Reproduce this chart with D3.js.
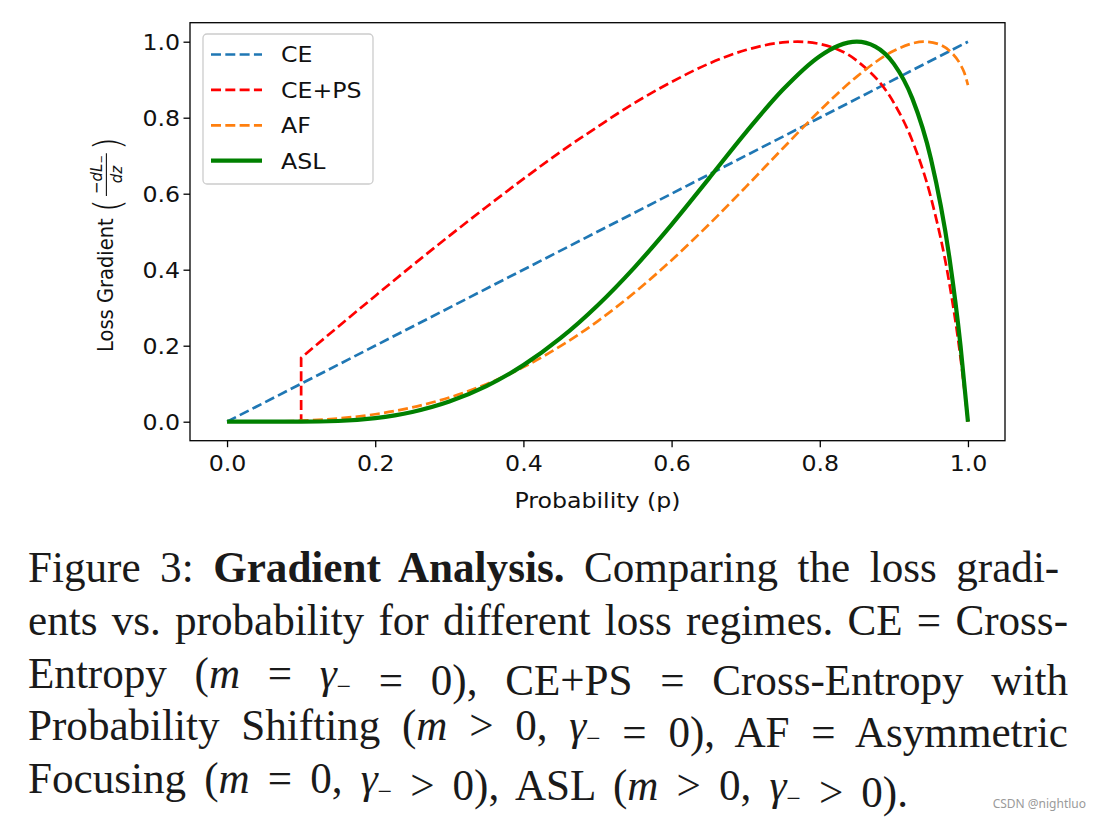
<!DOCTYPE html>
<html>
<head>
<meta charset="utf-8">
<script src="https://cdn.jsdelivr.net/npm/d3@7"></script>
<style>
  html, body { margin: 0; padding: 0; background: #fff; }
  svg { display: block; }
</style>
</head>
<body>
<svg id="chart" width="1093" height="818"></svg>
<script>
// ---------------- data ----------------
const seriesNames = ["CE", "CE+PS", "AF", "ASL"];
const xTicks = [0.0, 0.2, 0.4, 0.6, 0.8, 1.0];
const yTicks = [0.0, 0.2, 0.4, 0.6, 0.8, 1.0];

const ceX = [0, 1];
const ceY = [0, 1];

const cepsX = [0, 0.05, 0.1, 0.1, 0.15, 0.2, 0.25, 0.3, 0.35, 0.4, 0.45, 0.5, 0.55, 0.6, 0.65, 0.7, 0.75, 0.77, 0.8, 0.85, 0.9, 0.925, 0.95, 0.975, 0.99, 1.0];
const cepsY = [0, 0, 0, 0.168, 0.250, 0.331, 0.411, 0.489, 0.565, 0.639, 0.710, 0.776, 0.839, 0.894, 0.942, 0.978, 0.998, 1.0, 0.994, 0.950, 0.839, 0.739, 0.590, 0.363, 0.168, 0];

const afX = [0, 0.05, 0.1, 0.15, 0.2, 0.25, 0.3, 0.35, 0.4, 0.45, 0.5, 0.55, 0.6, 0.65, 0.7, 0.75, 0.8, 0.85, 0.9, 0.925, 0.94, 0.96, 0.975, 0.99, 0.995, 1.0];
const afY = [0, 0.0003, 0.0026, 0.0085, 0.0197, 0.0377, 0.0637, 0.0987, 0.1436, 0.1987, 0.2642, 0.3399, 0.4251, 0.5183, 0.6173, 0.7190, 0.8184, 0.9082, 0.9761, 0.9955, 1.0, 0.9939, 0.9763, 0.9394, 0.9190, 0.886];

const aslX = [0, 0.05, 0.1, 0.15, 0.2, 0.25, 0.3, 0.35, 0.4, 0.45, 0.5, 0.55, 0.6, 0.65, 0.7, 0.75, 0.8, 0.825, 0.85, 0.875, 0.9, 0.925, 0.95, 0.975, 0.99, 1.0];
const aslY = [0, 0, 0, 0.0018, 0.0093, 0.0256, 0.0530, 0.0936, 0.1489, 0.2197, 0.3059, 0.4063, 0.5188, 0.6391, 0.7607, 0.8736, 0.9620, 0.9895, 1.0, 0.9871, 0.9416, 0.8502, 0.6920, 0.4312, 0.1996, 0];

const xLabel = "Probability (p)";
const yLabel = "Loss Gradient";

// ---------------- layout ----------------
const svg = d3.select("#chart");
const plot = { left: 190, right: 1005, top: 22.7, bottom: 440.7 };
const x = d3.scaleLinear().domain([-0.05, 1.05]).range([plot.left, plot.right]);
const y = d3.scaleLinear().domain([-0.05, 1.05]).range([plot.bottom, plot.top]);

const FONT = "'DejaVu Sans', Verdana, sans-serif";
const SX = 1.1; // horizontal stretch seen in the reference
const FS = "21.5px";
const txtColor = "#111";

const colors = { "CE": "#1f77b4", "CE+PS": "#ff0000", "AF": "#ff7f0e", "ASL": "#008000" };
const dashLW = 2.7;
const dash = `${3.7 * dashLW},${1.6 * dashLW}`;

function pts(xs, ys) { return xs.map((v, i) => [v, ys[i]]); }

const lineLin = d3.line().x(d => x(d[0])).y(d => y(d[1])).curve(d3.curveLinear);
const lineMono = d3.line().x(d => x(d[0])).y(d => y(d[1])).curve(d3.curveMonotoneX);

const gLines = svg.append("g");

// CE
gLines.append("path").attr("d", lineLin(pts(ceX, ceY)))
  .attr("fill", "none").attr("stroke", colors["CE"]).attr("stroke-width", dashLW)
  .attr("stroke-dasharray", dash);

// CE+PS : flat part + jump (linear) then smooth curve, one continuous path
{
  const p = pts(cepsX, cepsY);
  const jumpIdx = 3;
  const d1 = lineLin(p.slice(0, jumpIdx + 1));
  const d2 = lineMono(p.slice(jumpIdx)).replace(/^M[^C]*/, "");
  gLines.append("path").attr("d", d1 + d2)
    .attr("fill", "none").attr("stroke", colors["CE+PS"]).attr("stroke-width", dashLW)
    .attr("stroke-dasharray", dash);
}

// AF
gLines.append("path").attr("d", lineMono(pts(afX, afY)))
  .attr("fill", "none").attr("stroke", colors["AF"]).attr("stroke-width", dashLW)
  .attr("stroke-dasharray", dash);

// ASL
gLines.append("path").attr("d", lineMono(pts(aslX, aslY)))
  .attr("fill", "none").attr("stroke", colors["ASL"]).attr("stroke-width", 4.2)
  .attr("stroke-linecap", "butt").attr("stroke-linejoin", "round");

// ---------------- frame + axes ----------------
svg.append("rect")
  .attr("x", plot.left).attr("y", plot.top)
  .attr("width", plot.right - plot.left).attr("height", plot.bottom - plot.top)
  .attr("fill", "none").attr("stroke", "#000").attr("stroke-width", 1.3);

const xAxis = svg.append("g").attr("transform", `translate(0,${plot.bottom})`)
  .call(d3.axisBottom(x).tickValues(xTicks).tickFormat(d3.format(".1f")).tickSize(6.5).tickPadding(8));
const yAxis = svg.append("g").attr("transform", `translate(${plot.left},0)`)
  .call(d3.axisLeft(y).tickValues(yTicks).tickFormat(d3.format(".1f")).tickSize(6.5).tickPadding(9));

[xAxis, yAxis].forEach(a => {
  a.select(".domain").remove();
  a.selectAll(".tick line").attr("stroke", "#000").attr("stroke-width", 1.3);
  a.selectAll(".tick text").attr("fill", txtColor).style("font-family", FONT).style("font-size", FS);
});
xAxis.selectAll(".tick text").attr("transform", `scale(${SX},1)`).attr("dy", "0.72em");
yAxis.selectAll(".tick text").each(function () {
  const t = d3.select(this);
  t.attr("x", -10 / SX).attr("transform", `scale(${SX},1)`).attr("dy", "0.36em");
});

// x label
svg.append("text")
  .attr("transform", `translate(${(x(0) + x(1)) / 2},508) scale(${SX},1)`)
  .attr("text-anchor", "middle").attr("fill", txtColor)
  .style("font-family", FONT).style("font-size", FS)
  .text(xLabel);

// y label (rotated, with fraction)
{
  const g = svg.append("g").attr("transform", `translate(113,352) rotate(-90) scale(1,${SX})`);
  const base = g.append("text").attr("x", 0).attr("y", 0).attr("fill", txtColor)
    .style("font-family", FONT).style("font-size", "19.5px").text(yLabel);
  let cx = base.node().getComputedTextLength() + 6;
  const lp = g.append("text").attr("x", cx).attr("y", 6).attr("fill", txtColor)
    .style("font-family", FONT).style("font-size", "34px").style("font-weight", "200").text("(");
  cx += lp.node().getComputedTextLength() + 3;
  // numerator
  const num = g.append("text").attr("y", -10).attr("fill", txtColor)
    .style("font-family", FONT).style("font-size", "15px");
  num.append("tspan").text("\u2212");
  num.append("tspan").style("font-style", "italic").text("dL");
  num.append("tspan").attr("dy", 2.5).style("font-size", "10px").text("\u2212");
  const den = g.append("text").attr("y", 8).attr("fill", txtColor)
    .style("font-family", FONT).style("font-size", "15px").style("font-style", "italic").text("dz");
  const wN = num.node().getComputedTextLength();
  const wD = den.node().getComputedTextLength();
  const wF = Math.max(wN, wD) + 4;
  num.attr("x", cx + (wF - wN) / 2);
  den.attr("x", cx + (wF - wD) / 2);
  g.append("line").attr("x1", cx).attr("x2", cx + wF).attr("y1", -6).attr("y2", -6)
    .attr("stroke", txtColor).attr("stroke-width", 1);
  cx += wF + 3;
  g.append("text").attr("x", cx).attr("y", 6).attr("fill", txtColor)
    .style("font-family", FONT).style("font-size", "34px").style("font-weight", "200").text(")");
}

// ---------------- legend ----------------
{
  const lg = svg.append("g");
  lg.append("rect").attr("x", 203).attr("y", 34).attr("width", 170).attr("height", 150)
    .attr("rx", 4).attr("ry", 4)
    .attr("fill", "#fff").attr("fill-opacity", 0.8)
    .attr("stroke", "#cccccc").attr("stroke-width", 1.3);
  const rowY = d3.scaleLinear().domain([0, 3]).range([54.5, 160.7]);
  seriesNames.forEach((name, i) => {
    const yy = rowY(i);
    const ln = lg.append("line").attr("x1", 211).attr("x2", 262).attr("y1", yy).attr("y2", yy)
      .attr("stroke", colors[name]);
    if (name === "ASL") ln.attr("stroke-width", 4.2);
    else ln.attr("stroke-width", dashLW).attr("stroke-dasharray", dash);
    lg.append("text")
      .attr("transform", `translate(281,${yy + 7.8}) scale(${SX},1)`)
      .attr("fill", txtColor).style("font-family", FONT).style("font-size", FS)
      .text(name);
  });
}

// ---------------- caption ----------------
{
  const SERIF = "'Liberation Serif', 'Times New Roman', serif";
  const capLeft = 28;
  const CSX = 0.98;
  const M = (t) => ({ t, i: true });
  const G = () => ({ t: "\u03b3", i: true, sub: "\u2212" });
  const captionLines = [
    { y: 582, right: 1068, segs: [{ t: "Figure 3: " }, { t: "Gradient Analysis.", b: true }, { t: "  Comparing the loss gradi-" }] },
    { y: 635, right: 1068, segs: [{ t: "ents vs. probability for different loss regimes. CE = Cross-" }] },
    { y: 688, right: 1068, segs: [{ t: "Entropy (" }, M("m"), { t: " = " }, G(), { t: " = 0), CE+PS = Cross-Entropy with" }] },
    { y: 740, right: 1068, segs: [{ t: "Probability Shifting (" }, M("m"), { t: " > 0, " }, G(), { t: " = 0), AF = Asymmetric" }] },
    { y: 793, right: 908, segs: [{ t: "Focusing (" }, M("m"), { t: " = 0, " }, G(), { t: " > 0), ASL (" }, M("m"), { t: " > 0, " }, G(), { t: " > 0)." }] }
  ];
  captionLines.forEach(line => {
    const t = svg.append("text").attr("x", 0).attr("y", 0)
      .attr("fill", "#1a1a1a").style("font-family", SERIF).style("font-size", "44px")
      .attr("transform", `translate(${capLeft},${line.y}) scale(${CSX},1)`);
    line.segs.forEach(s => {
      const ts = t.append("tspan").text(s.t);
      if (s.b) ts.style("font-weight", "bold");
      if (s.i) ts.style("font-style", "italic");
      if (s.sub) {
        t.append("tspan").attr("dy", 7).style("font-size", "26px").text(s.sub);
        t.append("tspan").attr("dy", -7).text("");
      }
    });
    const natural = t.node().getComputedTextLength();
    const full = line.segs.map(s => s.t).join("");
    const spaces = (full.match(/ /g) || []).length;
    if (spaces > 0) {
      const ws = ((line.right - capLeft) / CSX - natural) / spaces;
      t.style("word-spacing", ws + "px");
    }
  });
  svg.append("text").attr("x", 1086).attr("y", 808).attr("text-anchor", "end")
    .attr("fill", "#9a9a9a").style("font-family", "'Noto Sans', sans-serif").style("font-size", "12px")
    .text("CSDN @nightluo");
}
</script>
</body>
</html>
